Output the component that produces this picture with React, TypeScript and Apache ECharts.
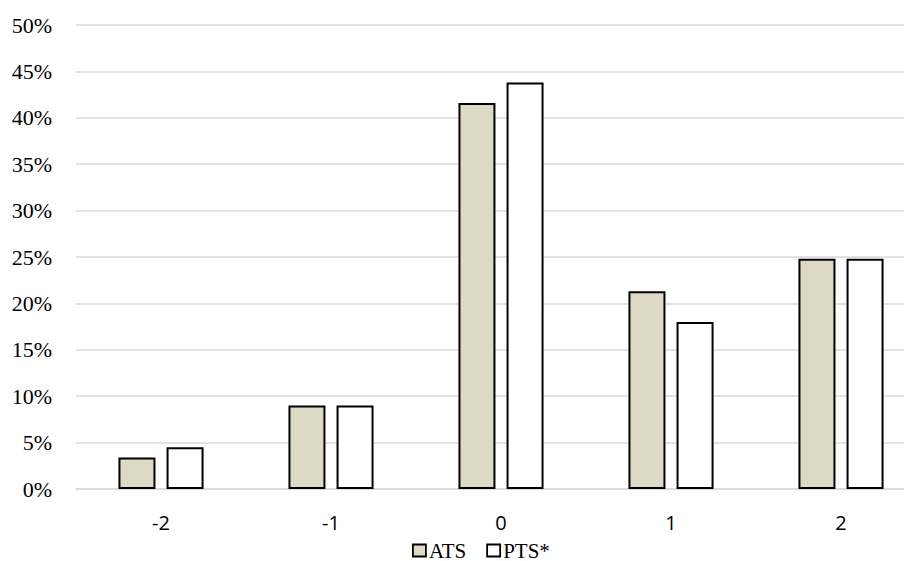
import React, { useEffect, useRef } from "react";
import * as echarts from "echarts";

const categories = ["-2", "-1", "0", "1", "2"];
const atsValues = [3.4, 9.0, 41.6, 21.3, 24.8];
const ptsValues = [4.5, 9.0, 43.8, 18.0, 24.8];
const yTicks = [0, 5, 10, 15, 20, 25, 30, 35, 40, 45, 50];

export default function App() {
  const ref = useRef<HTMLDivElement>(null);
  useEffect(() => {
    const chart = echarts.init(ref.current!, null, { renderer: "svg" });
    chart.setOption({
      animation: false,
      backgroundColor: "#ffffff",
      grid: { left: 68, top: 17, width: 850, height: 464, containLabel: false },
      legend: {
        top: 532,
        left: 404,
        padding: 0,
        data: ["ATS", "PTS*"],
        icon: "rect",
        itemWidth: 13,
        itemHeight: 12,
        itemGap: 20,
        itemStyle: { borderColor: "#000", borderWidth: 1.8 },
        textStyle: { fontFamily: "Liberation Serif", fontSize: 21, color: "#000", padding: [0, 0, 0, -2] },
      },
      xAxis: {
        type: "category",
        data: categories,
        axisLine: { show: true, lineStyle: { color: "#d9d9d9", width: 1.5 } },
        axisTick: { show: false },
        axisLabel: { fontFamily: "Open Sans", fontSize: 20, color: "#000", margin: 23 },
      },
      yAxis: {
        type: "value",
        min: yTicks[0],
        max: yTicks[yTicks.length - 1],
        interval: 5,
        axisLine: { show: false },
        axisTick: { show: false },
        splitLine: { lineStyle: { color: "#d9d9d9", width: 1.5 } },
        axisLabel: {
          fontFamily: "Liberation Serif",
          fontSize: 22,
          color: "#000",
          margin: 24,
          formatter: (v: number) => v + "%",
        },
      },
      series: [
        {
          name: "ATS",
          type: "bar",
          data: atsValues,
          barWidth: 37,
          barGap: "30%",
          itemStyle: { color: "#ddd9c3", borderColor: "#000", borderWidth: 2 },
        },
        {
          name: "PTS*",
          type: "bar",
          data: ptsValues,
          barWidth: 37,
          barGap: "30%",
          itemStyle: { color: "#ffffff", borderColor: "#000", borderWidth: 2 },
        },
      ],
    });
    return () => chart.dispose();
  }, []);
  return (
    <div style={{ width: 904, height: 553, overflow: "hidden" }}>
      <div ref={ref} style={{ width: 930, height: 553 }} />
    </div>
  );
}
